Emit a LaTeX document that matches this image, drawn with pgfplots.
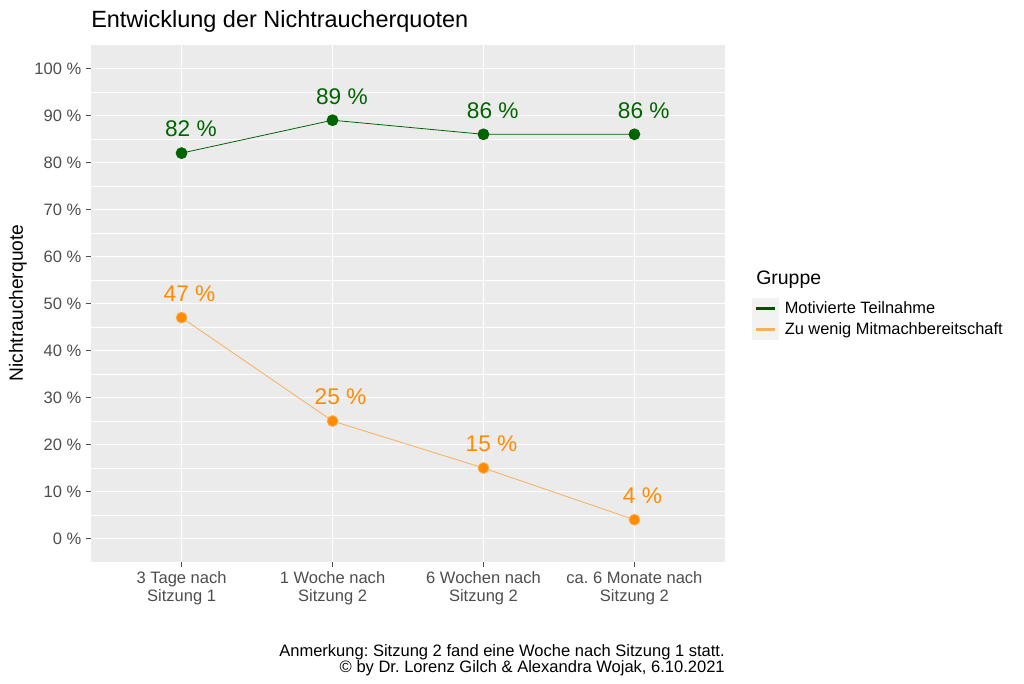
\documentclass[border=0pt]{standalone}
\usepackage{pgfplots}
\pgfplotsset{compat=1.18}
\usepackage{fontspec}
\setmainfont{Liberation Sans}
\frenchspacing
\definecolor{ggbg}{RGB}{235,235,235}
\definecolor{gray30}{RGB}{77,77,77}
\definecolor{dgreen}{RGB}{0,100,0}
\definecolor{dorange}{RGB}{255,140,0}
\definecolor{lorange}{RGB}{250,175,90}
\definecolor{legbg}{RGB}{242,242,242}
\begin{document}
\begin{tikzpicture}
\path[use as bounding box] (0,0) rectangle (768pt,-512.25pt);
\begin{axis}[
  at={(91*0.75pt,-562*0.75pt)}, anchor=south west,
  scale only axis, width=475.5pt, height=387.75pt,
  xmin=0.4, xmax=4.6, ymin=-5, ymax=105,
  axis lines*=left, axis line style={draw=none},
  axis background/.style={fill=ggbg},
  xtick={1,2,3,4},
  xticklabels={{3 Tage nach\\Sitzung 1},{1 Woche nach\\Sitzung 2},{6 Wochen nach\\Sitzung 2},{ca. 6 Monate nach\\Sitzung 2}},
  ytick={0,10,...,100},
  yticklabels={0 \%,10 \%,20 \%,30 \%,40 \%,50 \%,60 \%,70 \%,80 \%,90 \%,100 \%},
  minor ytick={5,15,...,95},
  xmajorgrids, ymajorgrids, yminorgrids,
  major grid style={white, line width=1.3pt},
  minor grid style={white, line width=0.6pt},
  tick align=outside, major tick length=3.75pt, minor tick length=0pt,
  tick style={gray30, line width=0.8pt},
  xticklabel style={font=\fontsize{12.4}{13.6}\selectfont, text=gray30, align=center},
  yticklabel style={font=\fontsize{12.4}{13.6}\selectfont, text=gray30},
  legend style={at={(1.0426,0.5106)}, anchor=north west, draw=none, fill=none,
    font=\fontsize{12.3}{13.5}\selectfont, inner sep=0pt, row sep=0pt,
    nodes={inner sep=2pt}},
  legend cell align=left,
  clip=false,
]
\addplot[forget plot, dgreen, line width=0.6pt, mark=*, mark size=4.1pt, mark options={solid, fill=dgreen, draw=none},
  nodes near coords, point meta=explicit symbolic,
  every node near coord/.append style={font=\fontsize{17}{18}\selectfont, text=dgreen, anchor=center, yshift=18pt, xshift=7pt}]
  coordinates {(1,82) [82 \%] (2,89) [89 \%] (3,86) [86 \%] (4,86) [86 \%]};
\addplot[forget plot, lorange, line width=0.6pt, mark=*, mark size=4.1pt, mark options={solid, fill=dorange, draw=none},
  nodes near coords, point meta=explicit symbolic,
  every node near coord/.append style={font=\fontsize{17}{18}\selectfont, text=dorange, anchor=center, yshift=18pt, xshift=6pt}]
  coordinates {(1,47) [47 \%] (2,25) [25 \%] (3,15) [15 \%] (4,4) [4 \%]};
\addlegendimage{legend image code/.code={\fill[legbg] (-3pt,-7.5pt) rectangle (16pt,7.5pt);
    \fill[dgreen!80!black] (0pt,-0.8pt) rectangle (13pt,0.8pt); \path (19pt,0pt);}}
\addlegendentry{Motivierte Teilnahme}
\addlegendimage{legend image code/.code={\fill[legbg] (-3pt,-7.5pt) rectangle (16pt,7.5pt);
    \fill[lorange] (0pt,-0.8pt) rectangle (13pt,0.8pt); \path (19pt,0pt);}}
\addlegendentry{Zu wenig Mitmachbereitschaft}
\end{axis}
\node[anchor=base west, inner sep=0pt, font=\fontsize{17.6}{19}\selectfont] at (91*0.75pt,-27*0.75pt) {Entwicklung der Nichtraucherquoten};
\node[rotate=90, font=\fontsize{14.4}{16}\selectfont] at (18*0.75pt,-303*0.75pt) {Nichtraucherquote};
\node[anchor=west, inner sep=0pt, font=\fontsize{14.6}{16}\selectfont] at (756*0.75pt,-280*0.75pt) {Gruppe};
\node[anchor=base east, inner sep=0pt, font=\fontsize{12.4}{13.6}\selectfont] at (725*0.75pt,-656*0.75pt) {Anmerkung: Sitzung 2 fand eine Woche nach Sitzung 1 statt.};
\node[anchor=base east, inner sep=0pt, font=\fontsize{12.4}{13.6}\selectfont] at (725*0.75pt,-672*0.75pt) {© by Dr. Lorenz Gilch \& Alexandra Wojak, 6.10.2021};
\end{tikzpicture}
\end{document}
